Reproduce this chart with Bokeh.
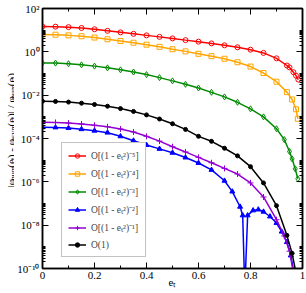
from bokeh.plotting import figure
from bokeh.layouts import row
from bokeh.models import (Range1d, FixedTicker, LinearAxis, LogAxis, Legend, LegendItem,
                          CustomJSTickFormatter, ColumnDataSource)
from bokeh.core.properties import value
from bokeh.embed import file_html
from bokeh.resources import INLINE

# ---------------- data ----------------
e_red = [0, 0.05, 0.1, 0.15, 0.2, 0.25, 0.3, 0.35, 0.4, 0.45, 0.5, 0.55, 0.6, 0.65, 0.7, 0.75, 0.8, 0.85, 0.9,
         0.94, 0.95, 0.965, 0.975, 0.984]
v_red = [14.8, 14.5, 13.8, 12.6, 11.0, 9.33, 7.94, 6.76, 5.75, 4.90, 4.17, 3.47, 2.95, 2.45, 2.00, 1.62, 1.26,
         0.891, 0.501, 0.234, 0.191, 0.115, 0.0794, 0.0525]

e_orange = [0, 0.05, 0.1, 0.15, 0.2, 0.25, 0.3, 0.35, 0.4, 0.45, 0.5, 0.55, 0.6, 0.65, 0.7, 0.75, 0.8, 0.85, 0.9,
            0.94, 0.96, 0.975, 0.982]
v_orange = [6.31, 6.17, 5.75, 5.25, 4.57, 3.80, 3.16, 2.63, 2.14, 1.70, 1.32, 1.05, 0.813, 0.631, 0.479, 0.331,
            0.209, 0.105, 0.0417, 0.0138, 6.31e-3, 2.24e-3, 8.13e-4]

e_green = [0, 0.05, 0.1, 0.15, 0.2, 0.25, 0.3, 0.35, 0.4, 0.45, 0.5, 0.55, 0.6, 0.65, 0.7, 0.75, 0.8, 0.85, 0.9,
           0.93, 0.95, 0.96, 0.972, 0.982]
v_green = [0.309, 0.302, 0.282, 0.251, 0.219, 0.182, 0.148, 0.117, 0.0891, 0.0646, 0.0457, 0.0316, 0.0214,
           0.0135, 8.32e-3, 4.68e-3, 2.34e-3, 1.0e-3, 2.82e-4, 8.91e-5, 2.51e-5, 1.15e-5, 3.98e-6, 1.38e-6]

e_blue = [0, 0.05, 0.1, 0.15, 0.2, 0.25, 0.3, 0.35, 0.4, 0.45, 0.5, 0.55, 0.6, 0.65, 0.7, 0.73, 0.76, 0.77,
          0.778, 0.789, 0.81, 0.83, 0.85, 0.875, 0.9, 0.92, 0.94, 0.955, 0.967]
v_blue = [3.31e-4, 3.24e-4, 3.02e-4, 2.69e-4, 2.29e-4, 1.86e-4, 1.26e-4, 7.94e-5, 5.01e-5, 3.31e-5, 2.19e-5,
          1.32e-5, 7.41e-6, 3.55e-6, 1.12e-6, 3.55e-7, 7.08e-8, 2.82e-8, 1e-11, 2.82e-8, 4.79e-8, 5.25e-8,
          4.17e-8, 2.51e-8, 1.26e-8, 5.01e-9, 1.66e-9, 3.98e-10, 6.31e-11]

e_purple = [0, 0.05, 0.1, 0.15, 0.2, 0.25, 0.3, 0.35, 0.4, 0.45, 0.5, 0.55, 0.6, 0.65, 0.7, 0.75, 0.8, 0.85, 0.9,
            0.93, 0.95, 0.965]
v_purple = [5.62e-4, 5.50e-4, 5.13e-4, 4.68e-4, 4.07e-4, 3.47e-4, 2.75e-4, 2.00e-4, 1.26e-4, 7.59e-5, 4.17e-5,
            2.40e-5, 1.35e-5, 7.59e-6, 4.17e-6, 2.29e-6, 8.91e-7, 2.00e-7, 1.78e-8, 3.16e-9, 6.31e-10, 6.31e-11]

e_black = [0, 0.05, 0.1, 0.15, 0.2, 0.25, 0.3, 0.35, 0.4, 0.45, 0.5, 0.55, 0.6, 0.65, 0.7, 0.75, 0.8, 0.85, 0.9,
           0.94, 0.96, 0.975]
v_black = [5.25e-3, 5.13e-3, 4.79e-3, 4.27e-3, 3.72e-3, 3.09e-3, 2.40e-3, 1.78e-3, 1.23e-3, 7.94e-4, 4.79e-4,
           2.63e-4, 1.26e-4, 7.41e-5, 3.55e-5, 1.58e-5, 5.01e-6, 8.91e-7, 7.94e-8, 3.39e-9, 5.01e-10, 6.31e-11]

series_labels = ["O[(1 - eₜ²)⁻⁵]", "O[(1 - eₜ²)⁻⁴]", "O[(1 - eₜ²)⁻³]",
                 "O[(1 - eₜ²)⁻²]", "O[(1 - eₜ²)⁻¹]", "O(1)"]

x_ticks = [0, 0.2, 0.4, 0.6, 0.8, 1.0]
x_tick_labels = ["0", "0.2", "0.4", "0.6", "0.8", "1"]
x_minor = [0.1, 0.3, 0.5, 0.7, 0.9]
y_ticks = [1e-10, 1e-8, 1e-6, 1e-4, 1e-2, 1e0, 1e2]
y_tick_labels = ["10⁻¹⁰", "10⁻⁸", "10⁻⁶", "10⁻⁴", "10⁻²", "10⁰", "10²"]
y_minor_mult = [2, 3, 4, 5, 6, 7, 8, 9, 10]

x_title = "eₜ"
# y title pieces: (text, is_subscript, approximate advance in px)
y_title_parts = [("|φ", 0, 8.2), ("num", 1, 14.2), ("(e", 0, 8.5), ("t", 1, 2.2), (") - φ", 0, 18.8),
                 ("asym", 1, 16.9), ("(e", 0, 8.5), ("t", 1, 2.2), (")| / φ", 0, 20.4), ("num", 1, 14.2),
                 ("(e", 0, 8.5), ("t", 1, 2.2), (")", 0, 3.7)]

FONT = "Liberation Serif"
W_TITLE = 14
H = 293

# ---------------- y title strip ----------------
t = figure(width=W_TITLE, height=H, x_range=Range1d(0, W_TITLE), y_range=Range1d(0, H),
           output_backend="svg", toolbar_location=None, min_border=0,
           x_axis_location=None, y_axis_location=None)
t.grid.visible = False
t.outline_line_color = None
t.background_fill_color = "white"
t.border_fill_color = "white"
total = sum(w for _, _, w in y_title_parts)
pos = (H - 137.5) - total / 2
xs_t, ys_t, txt_t, fs_t = [], [], [], []
for txt, sub, w in y_title_parts:
    xs_t.append(10.5 + (2.5 if sub else 0))
    ys_t.append(pos)
    txt_t.append(txt)
    fs_t.append("8px" if sub else "11px")
    pos += w
t.text(x="x", y="y", text="text", text_font_size="fs",
       source=ColumnDataSource(dict(x=xs_t, y=ys_t, text=txt_t, fs=fs_t)),
       angle=1.5707963, text_align="left", text_baseline="alphabetic",
       text_font=value(FONT), text_color="black")

# ---------------- main figure ----------------
p = figure(width=306 - W_TITLE, height=H, x_range=Range1d(0, 1), y_range=Range1d(1e-10, 1e2),
           y_axis_type="log", output_backend="svg", toolbar_location=None,
           min_border_left=41 - W_TITLE, min_border_right=4, min_border_top=8, min_border_bottom=25)
p.grid.visible = False
p.outline_line_color = "black"
p.outline_line_width = 1.5
p.background_fill_color = "white"

y_minor = [m * tk for tk in y_ticks[:-1] for m in y_minor_mult]


def style_axis(ax):
    ax.axis_line_width = 1.5
    ax.major_tick_in = 6
    ax.major_tick_out = 0
    ax.minor_tick_in = 3
    ax.minor_tick_out = 0
    ax.major_tick_line_width = 1
    ax.minor_tick_line_width = 1
    ax.major_label_text_font = FONT
    ax.major_label_text_color = "black"
    ax.major_label_text_font_size = "11px"
    ax.major_label_standoff = 3
    ax.axis_label_text_font = FONT
    ax.axis_label_text_font_size = "11px"
    ax.axis_label_text_font_style = "normal"
    ax.axis_label_text_color = "black"


xa = p.xaxis[0]
xa.ticker = FixedTicker(ticks=x_ticks, minor_ticks=x_minor)
xa.major_label_overrides = {tk: s for tk, s in zip(x_ticks, x_tick_labels)}
style_axis(xa)
xa.axis_label = x_title
xa.axis_label_standoff = -6

ya = p.yaxis[0]
ya.ticker = FixedTicker(ticks=y_ticks, minor_ticks=y_minor)
ya.major_label_overrides = {tk: s for tk, s in zip(y_ticks, y_tick_labels)}
style_axis(ya)

top = LinearAxis(ticker=FixedTicker(ticks=x_ticks, minor_ticks=x_minor),
                 formatter=CustomJSTickFormatter(code="return ''"))
style_axis(top)
top.major_label_standoff = 0
p.add_layout(top, "above")
right = LogAxis(ticker=FixedTicker(ticks=y_ticks, minor_ticks=y_minor),
                formatter=CustomJSTickFormatter(code="return ''"))
style_axis(right)
right.major_label_standoff = 0
p.add_layout(right, "right")

# ---------------- series ----------------
specs = [
    (e_red, v_red, "#ff0000", "circle", 5, None),
    (e_orange, v_orange, "#ffa500", "square", 5, None),
    (e_green, v_green, "#008b00", "diamond", 6, None),
    (e_blue, v_blue, "#0000ff", "triangle", 5, "#0000ff"),
    (e_purple, v_purple, "#9400d3", "cross", 6, None),
    (e_black, v_black, "#000000", "circle", 4, "#000000"),
]
items = []
for (xs, ys, col, mk, sz, fill), lab in zip(specs, series_labels):
    lr = p.line(xs, ys, line_color=col, line_width=1.5)
    sr = p.scatter(xs, ys, marker=mk, size=sz, line_color=col, fill_color=fill, line_width=1)
    items.append(LegendItem(label=lab, renderers=[lr, sr]))

leg = Legend(items=items, location=(19, 11))
leg.label_text_font = FONT
leg.label_text_font_size = "9.5px"
leg.glyph_width = 18
leg.glyph_height = 11
leg.label_height = 11
leg.spacing = 5
leg.label_standoff = 5
leg.padding = 6
leg.margin = 0
leg.border_line_color = "#888888"
leg.border_line_width = 1.5
leg.background_fill_color = "white"
leg.background_fill_alpha = 1.0
p.add_layout(leg)

layout = row(t, p, spacing=0)
open("out.html", "w").write(file_html(layout, INLINE))
